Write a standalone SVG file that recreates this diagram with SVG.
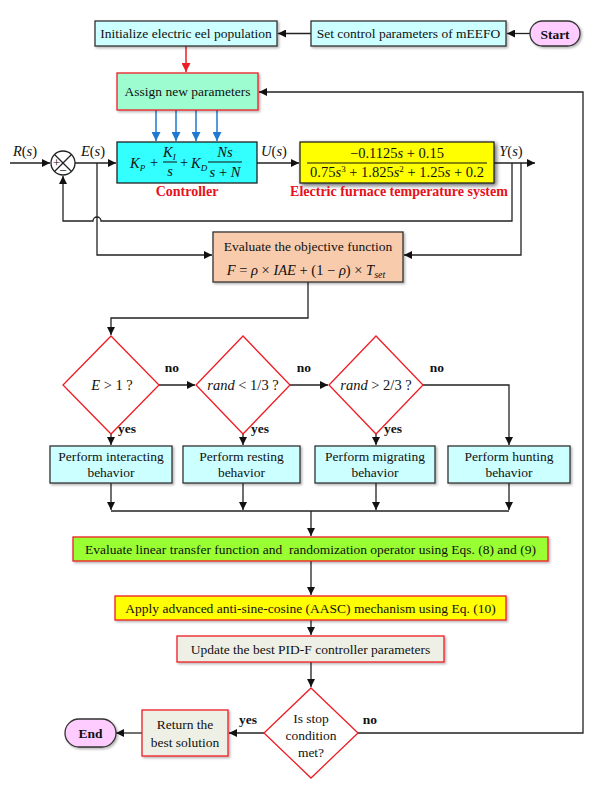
<svg xmlns="http://www.w3.org/2000/svg" width="602" height="786" viewBox="0 0 602 786">
<defs>
<style>
.t{font-family:"Liberation Serif","Times New Roman",serif;font-size:13.5px;fill:#111;text-anchor:middle}
.s{font-size:13.5px}
.b{font-weight:bold}
.red{fill:#e8101a;font-weight:bold;font-size:14px}
.i{font-style:italic}
.m{font-family:"Liberation Serif","Times New Roman",serif;font-size:14.5px;fill:#111}
.ln{fill:none;stroke:#222;stroke-width:1.3}
.box{stroke:#333;stroke-width:1.3}
.rb{stroke:#ee1c24;stroke-width:1.3}
.dia{fill:#fff;stroke:#ee1c24;stroke-width:1.3}
.cy{fill:#ccffff}
.pk{fill:#ffccff}
.gy{fill:#eef0e5}
</style>
<marker id="ar" viewBox="0 0 10 10" refX="10" refY="5" markerWidth="8" markerHeight="8" markerUnits="userSpaceOnUse" orient="auto"><path d="M0,0 L10,5 L0,10 z" fill="#111"/></marker>
<marker id="arr" viewBox="0 0 10 10" refX="10" refY="5" markerWidth="9" markerHeight="9" markerUnits="userSpaceOnUse" orient="auto"><path d="M0,0 L10,5 L0,10 z" fill="#ee1c24"/></marker>
<marker id="arb" viewBox="0 0 10 10" refX="10" refY="5" markerWidth="9" markerHeight="9" markerUnits="userSpaceOnUse" orient="auto"><path d="M0,0 L10,5 L0,10 z" fill="#1f78d1"/></marker>
<filter id="sh" x="-10%" y="-20%" width="130%" height="150%"><feDropShadow dx="1.5" dy="1.5" stdDeviation="1" flood-color="#000" flood-opacity="0.3"/></filter>
<filter id="sh2" x="-10%" y="-30%" width="130%" height="160%"><feDropShadow dx="2" dy="2" stdDeviation="2" flood-color="#000" flood-opacity="0.6"/></filter>
</defs>
<rect width="602" height="786" fill="#fff"/>

<g id="connectors">
<line class="ln" x1="530" y1="33.5" x2="507" y2="33.5" marker-end="url(#ar)"/>
<line class="ln" x1="311" y1="33.5" x2="278" y2="33.5" marker-end="url(#ar)"/>
<line x1="186" y1="46" x2="186" y2="72" stroke="#ee1c24" stroke-width="1.5" marker-end="url(#arr)"/>
<path class="ln" d="M358,733 H583 V92 H259" marker-end="url(#ar)"/>
<g stroke="#1f78d1" stroke-width="1.5">
<line x1="156" y1="110" x2="156" y2="141" marker-end="url(#arb)"/>
<line x1="176" y1="110" x2="176" y2="141" marker-end="url(#arb)"/>
<line x1="196" y1="110" x2="196" y2="141" marker-end="url(#arb)"/>
<line x1="217" y1="110" x2="217" y2="141" marker-end="url(#arb)"/>
</g>
<line class="ln" x1="10" y1="163" x2="50" y2="163" marker-end="url(#ar)"/>
<line class="ln" x1="75" y1="163" x2="116" y2="163" marker-end="url(#ar)"/>
<line class="ln" x1="257" y1="163" x2="299" y2="163" marker-end="url(#ar)"/>
<line class="ln" x1="494" y1="163" x2="535" y2="163" marker-end="url(#ar)"/>
<path class="ln" d="M512,163 V221 H101 A4,4 0 0 0 93,221 H63 V176" marker-end="url(#ar)"/>
<path class="ln" d="M97,163 V255 H212" marker-end="url(#ar)"/>
<path class="ln" d="M521,163 V255 H404" marker-end="url(#ar)"/>
<path class="ln" d="M308,282 V318 H111 V335" marker-end="url(#ar)"/>
<line class="ln" x1="159" y1="385" x2="195" y2="385" marker-end="url(#ar)"/>
<line class="ln" x1="290" y1="385" x2="328" y2="385" marker-end="url(#ar)"/>
<path class="ln" d="M423,385 H509 V445" marker-end="url(#ar)"/>
<line class="ln" x1="111" y1="434" x2="111" y2="445" marker-end="url(#ar)"/>
<line class="ln" x1="243" y1="434" x2="243" y2="445" marker-end="url(#ar)"/>
<line class="ln" x1="376" y1="434" x2="376" y2="445" marker-end="url(#ar)"/>
<line class="ln" x1="111" y1="483" x2="111" y2="510" marker-end="url(#ar)"/>
<line class="ln" x1="243" y1="483" x2="243" y2="510" marker-end="url(#ar)"/>
<line class="ln" x1="376" y1="483" x2="376" y2="510" marker-end="url(#ar)"/>
<line class="ln" x1="509" y1="483" x2="509" y2="510" marker-end="url(#ar)"/>
<line class="ln" x1="111" y1="511" x2="509" y2="511"/>
<line class="ln" x1="311" y1="511" x2="311" y2="536" marker-end="url(#ar)"/>
<line class="ln" x1="311" y1="561" x2="311" y2="595" marker-end="url(#ar)"/>
<line class="ln" x1="311" y1="620" x2="311" y2="635" marker-end="url(#ar)"/>
<line class="ln" x1="311" y1="662" x2="311" y2="687" marker-end="url(#ar)"/>
<line class="ln" x1="264" y1="733" x2="229" y2="733" marker-end="url(#ar)"/>
<line class="ln" x1="142" y1="733" x2="116" y2="733" marker-end="url(#ar)"/>
<text class="t b" x="172" y="372">no</text>
<text class="t b" x="304" y="372">no</text>
<text class="t b" x="437" y="372">no</text>
<text class="t b" x="127" y="433">yes</text>
<text class="t b" x="260" y="433">yes</text>
<text class="t b" x="393" y="433">yes</text>
<text class="t b" x="370" y="724">no</text>
<text class="t b" x="248" y="724">yes</text>
<text class="m i" x="25" y="156" text-anchor="middle">R<tspan font-style="normal">(</tspan>s<tspan font-style="normal">)</tspan></text>
<text class="m i" x="93" y="156" text-anchor="middle">E<tspan font-style="normal">(</tspan>s<tspan font-style="normal">)</tspan></text>
<text class="m i" x="274" y="156" text-anchor="middle">U<tspan font-style="normal">(</tspan>s<tspan font-style="normal">)</tspan></text>
<text class="m i" x="511" y="156" text-anchor="middle">Y<tspan font-style="normal">(</tspan>s<tspan font-style="normal">)</tspan></text>
</g>

<g id="start">
<rect x="530" y="21" width="50" height="25" rx="12.5" class="pk box" filter="url(#sh)"/>
<text class="t b" x="555" y="38.5" font-size="14">Start</text>
</g>
<g id="set-control">
<rect x="311" y="21" width="195" height="25" class="cy box" filter="url(#sh)"/>
<text class="t" x="408.5" y="38">Set control parameters of mEEFO</text>
</g>
<g id="initialize">
<rect x="95" y="21" width="182" height="25" class="cy box" filter="url(#sh)"/>
<text class="t" x="186" y="38">Initialize electric eel population</text>
</g>
<g id="assign">
<rect x="117" y="73" width="141" height="37" fill="#9dfdd0" class="rb" filter="url(#sh)"/>
<text class="t" x="187.5" y="96">Assign new parameters</text>
</g>
<g id="sum">
<circle cx="63" cy="163" r="12" fill="#fff" stroke="#222" stroke-width="1.3"/>
<line x1="54.5" y1="154.5" x2="71.5" y2="171.5" stroke="#222" stroke-width="1.2"/>
<line x1="54.5" y1="171.5" x2="71.5" y2="154.5" stroke="#222" stroke-width="1.2"/>
<text class="t" x="56.5" y="166.5" font-size="10">+</text>
<text class="t" x="63" y="174.5" font-size="11">−</text>
</g>
<g id="controller">
<rect x="117" y="142" width="140" height="41" fill="#33ffff" stroke="#222" stroke-width="1.3"/>
<text class="m i" x="130" y="168">K<tspan font-size="9" dy="3">P</tspan></text>
<text class="m" x="154" y="167" text-anchor="middle">+</text>
<text class="m i" x="163" y="157">K<tspan font-size="9" dy="3">I</tspan></text>
<line x1="163" y1="162" x2="177" y2="162" stroke="#111" stroke-width="1"/>
<text class="m i" x="170" y="176" text-anchor="middle">s</text>
<text class="m" x="184" y="167" text-anchor="middle">+</text>
<text class="m i" x="191" y="168">K<tspan font-size="9" dy="3">D</tspan></text>
<text class="m i" x="225" y="157" text-anchor="middle">Ns</text>
<line x1="208" y1="162" x2="242" y2="162" stroke="#111" stroke-width="1"/>
<text class="m i" x="225" y="177" text-anchor="middle">s <tspan font-style="normal">+</tspan> N</text>
<text class="t red" x="187" y="196">Controller</text>
</g>
<g id="plant">
<rect x="300" y="142" width="194" height="41" fill="#ffff00" stroke="#222" stroke-width="1.3" filter="url(#sh2)"/>
<text class="m" x="397" y="158" text-anchor="middle">−0.1125<tspan font-style="italic">s</tspan> + 0.15</text>
<line x1="307" y1="163" x2="487" y2="163" stroke="#111" stroke-width="1"/>
<text class="m" x="397" y="177" text-anchor="middle">0.75<tspan font-style="italic">s</tspan><tspan font-size="9" dy="-5">3</tspan><tspan dy="5"> + 1.825</tspan><tspan font-style="italic">s</tspan><tspan font-size="9" dy="-5">2</tspan><tspan dy="5"> + 1.25</tspan><tspan font-style="italic">s</tspan> + 0.2</text>
<text class="t red" x="399" y="196">Electric furnace temperature system</text>
</g>
<g id="objective">
<rect x="213" y="232" width="190" height="50" fill="#f8cbad" class="box" filter="url(#sh)"/>
<text class="t" x="308" y="251">Evaluate the objective function</text>
<text class="m" x="306" y="275" text-anchor="middle" font-size="15.5"><tspan font-style="italic">F</tspan> = <tspan font-style="italic">ρ</tspan> × <tspan font-style="italic">IAE</tspan> + (1 − <tspan font-style="italic">ρ</tspan>) × <tspan font-style="italic">T</tspan><tspan font-size="10" font-style="italic" dy="3">set</tspan></text>
</g>
<g id="cond-e">
<polygon points="111,336 159,385 111,434 63,385" class="dia"/>
<text class="m" x="112" y="390" text-anchor="middle" font-size="16"><tspan font-style="italic">E</tspan> &gt; 1 ?</text>
</g>
<g id="cond-rand1">
<polygon points="243,336 290,385 243,434 196,385" class="dia"/>
<text class="m" x="243" y="390" text-anchor="middle" font-size="16"><tspan font-style="italic">rand</tspan> &lt; 1/3 ?</text>
</g>
<g id="cond-rand2">
<polygon points="376,336 423,385 376,434 329,385" class="dia"/>
<text class="m" x="376" y="390" text-anchor="middle" font-size="16"><tspan font-style="italic">rand</tspan> &gt; 2/3 ?</text>
</g>
<g id="interacting">
<rect x="50" y="446" width="122" height="37" class="cy box" filter="url(#sh)"/>
<text class="t" x="111" y="461">Perform interacting</text>
<text class="t" x="111" y="477">behavior</text>
</g>
<g id="resting">
<rect x="183" y="446" width="117" height="37" class="cy box" filter="url(#sh)"/>
<text class="t" x="241.5" y="461">Perform resting</text>
<text class="t" x="241.5" y="477">behavior</text>
</g>
<g id="migrating">
<rect x="315" y="446" width="120" height="37" class="cy box" filter="url(#sh)"/>
<text class="t" x="375" y="461">Perform migrating</text>
<text class="t" x="375" y="477">behavior</text>
</g>
<g id="hunting">
<rect x="448" y="446" width="122" height="37" class="cy box" filter="url(#sh)"/>
<text class="t" x="509" y="461">Perform hunting</text>
<text class="t" x="509" y="477">behavior</text>
</g>
<g id="evaluate-ltf">
<rect x="73" y="537" width="475" height="24" fill="#99ff33" class="rb" filter="url(#sh)"/>
<text class="t s" x="310.5" y="553.5" xml:space="preserve">Evaluate linear transfer function and  randomization operator using Eqs. (8) and (9)</text>
</g>
<g id="aasc">
<rect x="115" y="596" width="391" height="24" fill="#ffff00" class="rb" filter="url(#sh)"/>
<text class="t s" x="310.5" y="612.5">Apply advanced anti-sine-cosine (AASC) mechanism using Eq. (10)</text>
</g>
<g id="update">
<rect x="177" y="636" width="267" height="26" class="gy rb" filter="url(#sh)"/>
<text class="t" x="310.5" y="653.5">Update the best PID-F controller parameters</text>
</g>
<g id="stop">
<polygon points="311,688 358,733 311,778 264,733" class="dia"/>
<text class="t" x="311" y="723">Is stop</text>
<text class="t" x="311" y="740">condition</text>
<text class="t" x="311" y="757">met?</text>
</g>
<g id="return">
<rect x="142" y="710" width="86" height="46" class="gy rb" filter="url(#sh)"/>
<text class="t" x="185" y="729">Return the</text>
<text class="t" x="185" y="747">best solution</text>
</g>
<g id="end">
<rect x="65" y="719" width="51" height="28" rx="14" class="pk box" filter="url(#sh)"/>
<text class="t b" x="90.5" y="738" font-size="14">End</text>
</g>
</svg>
